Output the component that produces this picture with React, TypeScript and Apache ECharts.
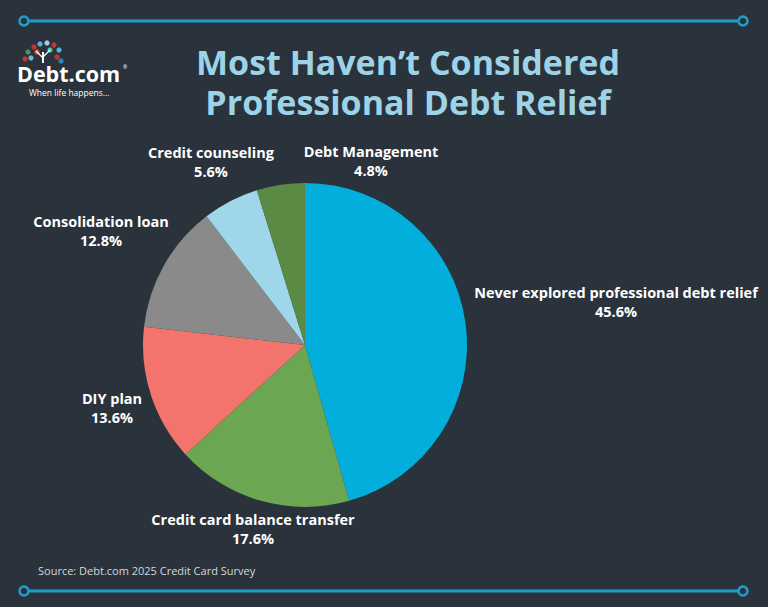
import React, { useEffect, useRef } from "react";
import * as echarts from "echarts";

const categories = [
  "Never explored professional debt relief",
  "Credit card balance transfer",
  "DIY plan",
  "Consolidation loan",
  "Credit counseling",
  "Debt Management",
];
const values = [45.6, 17.6, 13.6, 12.8, 5.6, 4.8];
const colors = ["#01AEDC", "#6BA752", "#F2746D", "#8A8A8B", "#A0D6EA", "#5B8A44"];
const labelPos: [number, number][] = [
  [616, 302],
  [253, 529],
  [112, 408],
  [101, 231],
  [211, 162],
  [371, 161],
];

export default function App() {
  const ref = useRef<HTMLDivElement>(null);
  useEffect(() => {
    const chart = echarts.init(ref.current!, null, { renderer: "svg" });
    const lineColor = "#1E9EC6";
    const endCircle = (x: number, y: number) => ({
      type: "circle",
      shape: { cx: x, cy: y, r: 4.5 },
      style: { fill: "#2A323C", stroke: lineColor, lineWidth: 2.5 },
      z: 10,
    });
    const leaves = [
      [28, 52, "#3E9A6B"], [34, 47, "#C0392B"], [40, 44, "#5DADE2"], [47, 43, "#A9CCE3"],
      [54, 45, "#C0392B"], [59, 50, "#5DADE2"], [31, 58, "#7FB3D5"], [57, 57, "#C0392B"],
      [37, 52, "#E74C3C"], [50, 50, "#48C9B0"], [25, 59, "#C0392B"], [61, 61, "#2E86C1"],
    ];
    chart.setOption({
      animation: false,
      backgroundColor: "#2A323C",
      graphic: [
        { type: "line", shape: { x1: 24, y1: 21, x2: 743, y2: 21 }, style: { stroke: lineColor, lineWidth: 3 } },
        endCircle(24, 21),
        endCircle(743, 21),
        { type: "line", shape: { x1: 24, y1: 591, x2: 743, y2: 591 }, style: { stroke: lineColor, lineWidth: 3 } },
        endCircle(24, 591),
        endCircle(743, 591),
        {
          type: "text",
          x: 408,
          y: 82,
          style: {
            text: "Most Haven\u2019t Considered\nProfessional Debt Relief",
            fill: "#9DD3E6",
            font: "bold 34px 'Open Sans'",
            lineHeight: 40,
            align: "center",
            verticalAlign: "middle",
          },
        },
        ...leaves.map(([x, y, c]) => ({
          type: "circle",
          shape: { cx: x as number, cy: y as number, r: 2.6 },
          style: { fill: c as string },
        })),
        { type: "line", shape: { x1: 43, y1: 63, x2: 43, y2: 52 }, style: { stroke: "#fff", lineWidth: 2 } },
        { type: "line", shape: { x1: 43, y1: 58, x2: 36, y2: 51 }, style: { stroke: "#fff", lineWidth: 1.2 } },
        { type: "line", shape: { x1: 43, y1: 57, x2: 50, y2: 50 }, style: { stroke: "#fff", lineWidth: 1.2 } },
        {
          type: "text",
          x: 17,
          y: 73,
          style: { text: "Debt.com", fill: "#FFFFFF", font: "bold 21.5px 'Open Sans'", verticalAlign: "middle" },
        },
        {
          type: "text",
          x: 123,
          y: 67,
          style: { text: "®", fill: "#FFFFFF", font: "5px 'Open Sans'", verticalAlign: "middle" },
        },
        {
          type: "text",
          x: 29,
          y: 92,
          style: { text: "When life happens...", fill: "#FFFFFF", font: "8.5px 'Open Sans'", verticalAlign: "middle" },
        },
        {
          type: "text",
          x: 38,
          y: 570,
          style: {
            text: "Source: Debt.com 2025 Credit Card Survey",
            fill: "#D5D8DC",
            font: "11px 'Open Sans'",
            verticalAlign: "middle",
          },
        },
      ],
      series: [
        {
          type: "pie",
          center: [305, 345],
          radius: 162,
          startAngle: 90,
          clockwise: true,
          data: categories.map((name, i) => ({
            name,
            value: values[i],
            itemStyle: { color: colors[i] },
          })),
          label: {
            show: true,
            formatter: (p: any) => `${p.name}\n${p.value.toFixed(1)}%`,
            color: "#FFFFFF",
            fontFamily: "'Open Sans'",
            fontWeight: "bold",
            fontSize: 14.5,
            lineHeight: 19,
            align: "center",
            overflow: "none",
            width: 400,
          },
          labelLine: { show: false },
          labelLayout: (params: any) => {
            const p = labelPos[params.dataIndex];
            return { x: p[0], y: p[1], align: "center", verticalAlign: "middle" };
          },
          emphasis: { disabled: true },
        },
      ],
    });
    return () => chart.dispose();
  }, []);
  return <div ref={ref} style={{ width: 768, height: 607, position: "absolute", left: 0, top: 0 }} />;
}
